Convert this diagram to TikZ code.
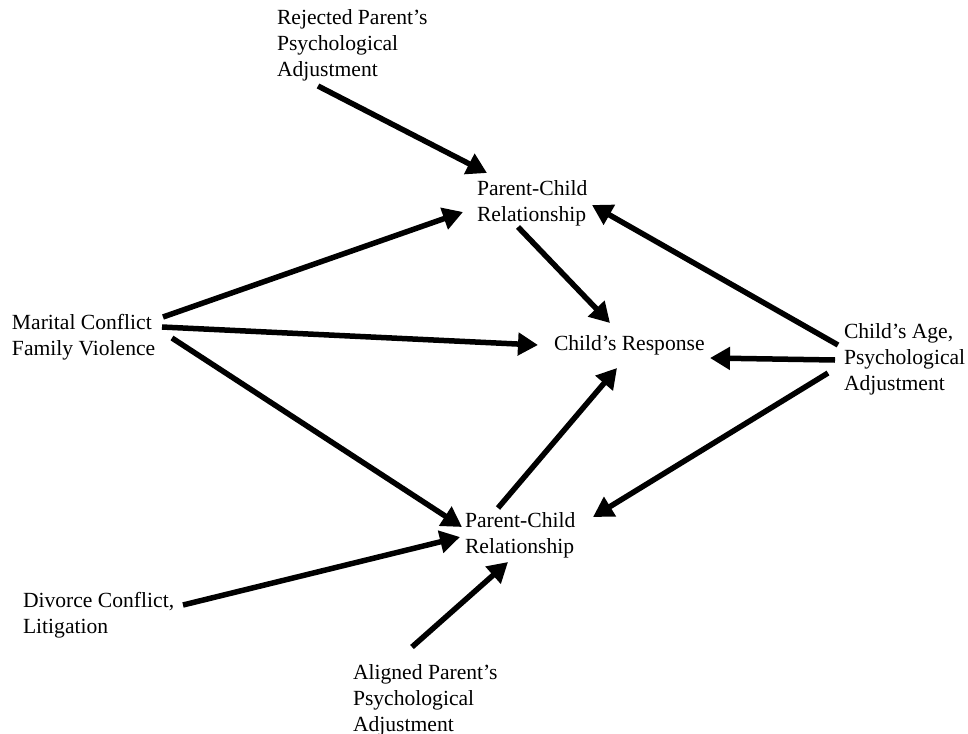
\documentclass[tikz,border=0pt]{standalone}
\usepackage{fontspec}
\setmainfont{Liberation Serif}
\usetikzlibrary{arrows.meta}
\begin{document}
\begin{tikzpicture}[x=1pt,y=-1pt,
  lbl/.style={inner sep=0pt,outer sep=0pt,anchor=base west,align=left,
    font=\fontsize{21.6}{26}\selectfont},
  arr/.style={line width=5.5pt,-{Triangle[length=20pt,width=22pt]}}]
\useasboundingbox (0,0) rectangle (968,733);
% base west = baseline of the last line
\node[lbl] (rej) at (277,77) {Rejected Parent’s\\Psychological\\Adjustment};
\node[lbl] (tpc) at (477,221) {Parent-Child\\Relationship};
\node[lbl] (mar) at (12,355) {Marital Conflict\\Family Violence};
\node[lbl] (cr) at (554,350) {Child’s Response};
\node[lbl] (age) at (844,390) {Child’s Age,\\Psychological\\Adjustment};
\node[lbl] (bpc) at (465,553) {Parent-Child\\Relationship};
\node[lbl] (div) at (23,633) {Divorce Conflict,\\Litigation};
\node[lbl] (ali) at (353,731) {Aligned Parent’s\\Psychological\\Adjustment};
\draw[arr] ([shift={(41,9)}]rej.base west) -- ([shift={(10,-48)}]tpc.base west);
\draw[arr] ([shift={(151,-38)}]mar.base west) -- ([shift={(-14,-9)}]tpc.base west);
\draw[arr] ([shift={(150,-28)}]mar.base west) -- ([shift={(-16,-5)}]cr.base west);
\draw[arr] ([shift={(160,-17)}]mar.base west) -- ([shift={(-3,-26)}]bpc.base west);
\draw[arr] ([shift={(41,6)}]tpc.base west) -- ([shift={(56,-27)}]cr.base west);
\draw[arr] ([shift={(33,-45)}]bpc.base west) -- ([shift={(63,18)}]cr.base west);
\draw[arr] ([shift={(-6,-45)}]age.base west) -- ([shift={(115,-16)}]tpc.base west);
\draw[arr] ([shift={(-9,-30)}]age.base west) -- ([shift={(156,8)}]cr.base west);
\draw[arr] ([shift={(-16,-17)}]age.base west) -- ([shift={(128,-36)}]bpc.base west);
\draw[arr] ([shift={(160,-28)}]div.base west) -- ([shift={(-5,-16)}]bpc.base west);
\draw[arr] ([shift={(59,-84)}]ali.base west) -- ([shift={(43,9)}]bpc.base west);
\end{tikzpicture}
\end{document}
